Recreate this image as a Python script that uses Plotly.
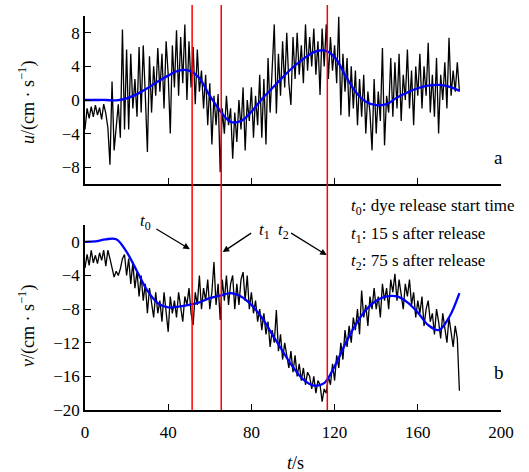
import plotly.graph_objects as go

t = list(range(0, 181))
u_raw = [
    -3.5, -1.0, -2.2, -0.8, -2.0, -0.6, -1.8, -0.9, -2.3, -0.5,
    -1.6, -3.3, -7.7, 2.2, -6.0, -3.5, -0.5, -4.5, 8.4, -3.5,
    6.0, -3.5, 5.5, -1.0, 2.5, -2.0, 6.3, -1.5, 6.5, 0.5,
    -6.2, 5.2, -1.5, 4.0, 0.5, 6.2, 1.0, 5.5, -1.0, 7.0,
    3.0, -4.0, 6.5, 1.5, 8.3, 0.5, 7.5, 2.0, 9.0, 0.0,
    7.0, 1.5, 6.3, -0.5, 6.0, 1.0, 3.5, -1.0, 3.0, -3.0,
    2.0, -5.3, 0.5, -3.0, 0.7, -8.6, -1.0, -4.0, 0.5, -3.0,
    -1.0, -7.0, -1.5, -5.0, 0.0, -3.5, 1.5, -6.0, 0.0, -2.5,
    1.5, -4.5, 0.5, -3.0, 3.0, -4.5, 2.5, -5.3, 5.0, -1.5,
    4.5, 9.0, -1.6, 5.5, 0.5, 7.0, 1.5, 8.0, 2.0, -0.6,
    7.5, 2.5, 8.0, 3.0, 6.5, 2.0, 9.0, 3.5, 7.5, 4.0,
    8.5, 3.0, 7.0, 0.6, 8.5, 4.0, 9.0, 2.5, 7.5, 3.5,
    6.5, 2.0, 9.9, -1.8, 5.5, 1.0, 5.0, -2.0, 4.0, -1.0,
    3.5, -3.0, 2.5, -2.0, 3.0, -4.0, 1.0, -1.5, -6.0, 2.5,
    -4.0, 1.0, -2.5, 6.2, -5.4, 0.5, -1.5, 5.0, -2.0, 4.5,
    -1.0, 5.5, -2.5, 3.0, 0.0, 6.0, -1.0, 3.5, -3.0, 4.0,
    0.5, 5.5, -1.0, 4.0, 0.5, 6.8, -1.5, 3.0, -2.0, 5.0,
    -4.0, 3.0, 0.0, 4.5, -1.0, 7.4, 0.5, 3.5, 1.0, 4.5,
    1.0,
]
v_raw = [
    -3.1, -1.5, -2.8, -1.0, -2.5, -1.6, -2.6, -1.3, -2.2, -1.0,
    -2.9, -1.0, -2.0, -3.0, -4.2, -3.5, -4.0, -3.2, -2.0, -1.5,
    -4.0, -2.0, -5.0, -2.5, -5.5, -3.5, -6.5, -4.0, -7.0, -5.0,
    -8.5, -5.5, -7.0, -9.0, -6.0, -8.5, -7.0, -9.5, -6.0, -8.0,
    -10.7, -6.5, -8.5, -7.0, -9.0, -6.0, -8.0, -9.5, -6.5, -7.5,
    -5.5, -8.5, -9.9, -6.0, -7.5, -4.0, -8.0, -5.5, -7.0, -4.5,
    -8.0, -6.0, -2.4, -7.5, -5.0, -9.3, -4.5, -7.0, -4.0, -7.5,
    -5.0, -4.0, -8.0, -5.0, -7.5, -4.5, -3.6, -7.0, -4.0, -8.0,
    -6.0, -8.5, -7.0, -9.5, -8.0, -10.5, -8.5, -11.0, -9.5, -12.5,
    -10.5, -12.0, -8.1, -13.0, -11.0, -14.0, -12.0, -13.5, -15.0, -13.0,
    -15.5, -13.5, -16.0, -14.5, -16.5, -15.0, -17.0, -15.5, -16.0, -17.5,
    -16.0, -18.0, -16.5, -17.0, -19.0, -17.5, -18.0, -16.0, -17.0, -14.5,
    -16.5, -13.5, -15.0, -12.0, -14.0, -10.5, -12.5, -10.0, -12.0, -9.0,
    -10.5, -8.0, -11.0, -5.8, -9.0, -7.5, -10.0, -6.5, -8.0, -5.5,
    -8.0, -6.5, -9.0, -5.0, -7.0, -5.5, -8.0, -4.5, -6.0, -3.8,
    -7.0, -4.5, -6.0, -8.0, -5.0, -6.5, -4.5, -7.5, -6.0, -9.0,
    -7.0, -8.5, -6.5, -10.0, -8.0, -7.0, -9.5, -8.5, -11.0, -8.0,
    -9.5, -11.5, -8.5, -10.5, -12.0, -9.0, -11.0, -12.5, -10.0, -11.5,
    -17.7,
]

t_fit = list(range(0, 181, 5))
u_fit = [0.0, 0.0, 0.0, -0.05, 0.2, 0.7, 1.4, 2.2, 2.9, 3.5,
         3.5, 2.6, 0.5, -1.3, -2.6, -2.5, -1.4, 0.1, 1.4, 2.7,
         3.9, 4.9, 5.7, 5.9, 5.1, 3.0, 1.0, -0.2, -0.6, -0.5,
         0.3, 0.9, 1.4, 1.7, 1.8, 1.6, 1.1]
v_fit = [0.0, 0.05, 0.3, 0.3, -1.2, -3.5, -5.8, -7.3, -7.8, -7.7,
         -7.5, -7.2, -6.7, -6.4, -6.1, -6.5, -7.5, -9.0, -11.0, -13.0,
         -14.9, -16.4, -17.1, -16.8, -14.8, -12.2, -9.9, -8.1, -7.0, -6.5,
         -6.5, -7.2, -8.4, -9.9, -10.5, -9.0, -6.1]

marker_times = [51.5, 65.5, 116.5]

FONT = "Liberation Serif, DejaVu Serif, serif"

fig = go.Figure()
fig.add_trace(go.Scatter(x=t, y=u_raw, mode="lines", line=dict(color="black", width=1.3),
                         xaxis="x", yaxis="y", showlegend=False))
fig.add_trace(go.Scatter(x=t_fit, y=u_fit, mode="lines", line=dict(color="#0000ff", width=2.3, shape="spline"),
                         xaxis="x", yaxis="y", showlegend=False))
fig.add_trace(go.Scatter(x=t, y=v_raw, mode="lines", line=dict(color="black", width=1.3),
                         xaxis="x2", yaxis="y2", showlegend=False))
fig.add_trace(go.Scatter(x=t_fit, y=v_fit, mode="lines", line=dict(color="#0000ff", width=2.3, shape="spline"),
                         xaxis="x2", yaxis="y2", showlegend=False))

for mt in marker_times:
    fig.add_shape(type="line", xref="x2", yref="paper", x0=mt, x1=mt, y0=0, y1=1.028,
                  line=dict(color="red", width=1.5))

axis_common = dict(showline=True, linecolor="black", linewidth=1.5, ticks="inside",
                   ticklen=6, tickcolor="black", tickwidth=1.3, showgrid=False, zeroline=False,
                   tickfont=dict(family=FONT, size=17, color="black"))

fig.update_layout(
    width=529, height=472,
    margin=dict(l=85, r=28, t=16, b=62),
    paper_bgcolor="white", plot_bgcolor="white",
    font=dict(family=FONT, color="black"),
    xaxis=dict(domain=[0, 1], range=[0, 200], tickvals=[0, 40, 80, 120, 160, 200],
               showticklabels=False, anchor="y", **axis_common),
    yaxis=dict(domain=[0.5736, 1], range=[-10, 10], tickvals=[-8, -4, 0, 4, 8],
               anchor="x", **axis_common),
    xaxis2=dict(domain=[0, 1], range=[0, 200], tickvals=[0, 40, 80, 120, 160, 200],
                anchor="y2", ticklabelstandoff=6, **axis_common),
    yaxis2=dict(domain=[0, 0.4695], range=[-20, 2], tickvals=[-20, -16, -12, -8, -4, 0],
                anchor="x2", **axis_common),
)

def px_x(px):
    return (px - 85) / 416

def px_y(py):
    return (410 - py) / 394

ann = []
ann.append(dict(text="<i>u</i>/(cm · s<sup>−1</sup>)", xref="paper", yref="paper",
                x=px_x(27), y=px_y(103), textangle=-90, showarrow=False,
                xanchor="center", yanchor="middle", font=dict(family=FONT, size=18)))
ann.append(dict(text="<i>v</i>/(cm · s<sup>−1</sup>)", xref="paper", yref="paper",
                x=px_x(27), y=px_y(326), textangle=-90, showarrow=False,
                xanchor="center", yanchor="middle", font=dict(family=FONT, size=18)))
ann.append(dict(text="<i>t</i>/s", xref="paper", yref="paper",
                x=px_x(295), y=px_y(463), showarrow=False,
                xanchor="center", yanchor="middle", font=dict(family=FONT, size=18)))
ann.append(dict(text="a", xref="paper", yref="paper", x=px_x(498), y=px_y(157), showarrow=False,
                xanchor="center", yanchor="middle", font=dict(family=FONT, size=19)))
ann.append(dict(text="b", xref="paper", yref="paper", x=px_x(499), y=px_y(372), showarrow=False,
                xanchor="center", yanchor="middle", font=dict(family=FONT, size=19)))

legend_lines = ["<i>t</i><sub>0</sub>: dye release start time",
                "<i>t</i><sub>1</sub>: 15 s after release",
                "<i>t</i><sub>2</sub>: 75 s after release"]
for i, txt in enumerate(legend_lines):
    py = [207, 235, 262][i]
    ann.append(dict(text=txt, xref="paper", yref="paper", x=px_x(349),
                    y=px_y(py), showarrow=False, xanchor="left", yanchor="middle",
                    font=dict(family=FONT, size=17)))

for txt, px, py in [("<i>t</i><sub>0</sub>", 145, 222), ("<i>t</i><sub>1</sub>", 264, 231),
                    ("<i>t</i><sub>2</sub>", 283, 231)]:
    ann.append(dict(text=txt, xref="paper", yref="paper", x=px_x(px), y=px_y(py), showarrow=False,
                    xanchor="center", yanchor="middle", font=dict(family=FONT, size=17)))

for (tx, ty, hx, hy) in [(33.6, 1.63, 50.4, -0.87), (80.6, 1.15, 66.2, -1.22),
                         (98.4, 1.15, 116.2, -1.58)]:
    ann.append(dict(text="", xref="x2", yref="y2", axref="x2", ayref="y2",
                    x=hx, y=hy, ax=tx, ay=ty, showarrow=True, arrowhead=2,
                    arrowsize=1, arrowwidth=1.3, arrowcolor="black"))

fig.update_layout(annotations=ann)
fig.write_html("out.html")
